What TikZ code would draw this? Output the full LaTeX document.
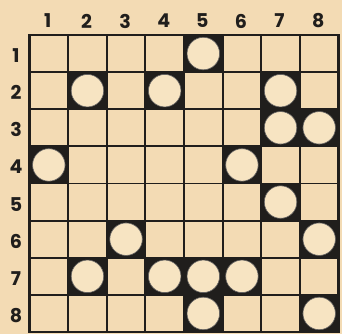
\documentclass[tikz,border=0pt]{standalone}
\usepackage{fontspec}
\newfontfamily\labfont{Poppins}
\definecolor{paper}{RGB}{243,219,180}
\definecolor{disc}{RGB}{247,228,194}
\definecolor{ink}{RGB}{32,30,28}
\begin{document}
\begin{tikzpicture}[x=1pt,y=-1pt,
  lab/.style={font=\labfont\bfseries\fontsize{19}{19}\selectfont, text=ink, inner sep=0pt},
  gridline/.style={draw=ink, line width=1.8pt},
  blackcell/.style={fill=ink},
  piece/.style={circle, fill=disc, draw=ink!70, line width=0.6pt, minimum size=32.5pt, inner sep=0pt}]
\fill[paper] (0,0) rectangle (342,334);
\useasboundingbox (0,0) rectangle (342,334);
\def\xo{29.5}\def\yo{35}\def\cw{38.625}\def\ch{37.125}
% black cells with discs
\foreach \c/\r in {5/1, 2/2, 4/2, 7/2, 7/3, 8/3, 1/4, 6/4, 7/5, 3/6, 8/6, 2/7, 4/7, 5/7, 6/7, 5/8, 8/8}{
  \fill[blackcell] ({\xo+(\c-1)*\cw},{\yo+(\r-1)*\ch}) rectangle ({\xo+\c*\cw},{\yo+\r*\ch});
}
% grid
\foreach \i in {1,...,7}{
  \draw[gridline] ({\xo+\i*\cw},\yo) -- ({\xo+\i*\cw},{\yo+8*\ch});
  \draw[gridline] (\xo,{\yo+\i*\ch}) -- ({\xo+8*\cw},{\yo+\i*\ch});
}
\draw[gridline, line width=2.6pt] (\xo,\yo) rectangle ({\xo+8*\cw},{\yo+8*\ch});
% discs
\foreach \c/\r in {5/1, 2/2, 4/2, 7/2, 7/3, 8/3, 1/4, 6/4, 7/5, 3/6, 8/6, 2/7, 4/7, 5/7, 6/7, 5/8, 8/8}{
  \node[piece] (p\c\r) at ({\xo+(\c-0.5)*\cw},{\yo+(\r-0.5)*\ch}) {};
}
% labels
\foreach \i in {1,...,8}{
  \node[lab] (col\i) at ({\xo+(\i-0.5)*\cw-1},21) {\i};
  \node[lab] (row\i) at (16,{\yo+(\i-0.5)*\ch+2}) {\i};
}
\end{tikzpicture}
\end{document}
